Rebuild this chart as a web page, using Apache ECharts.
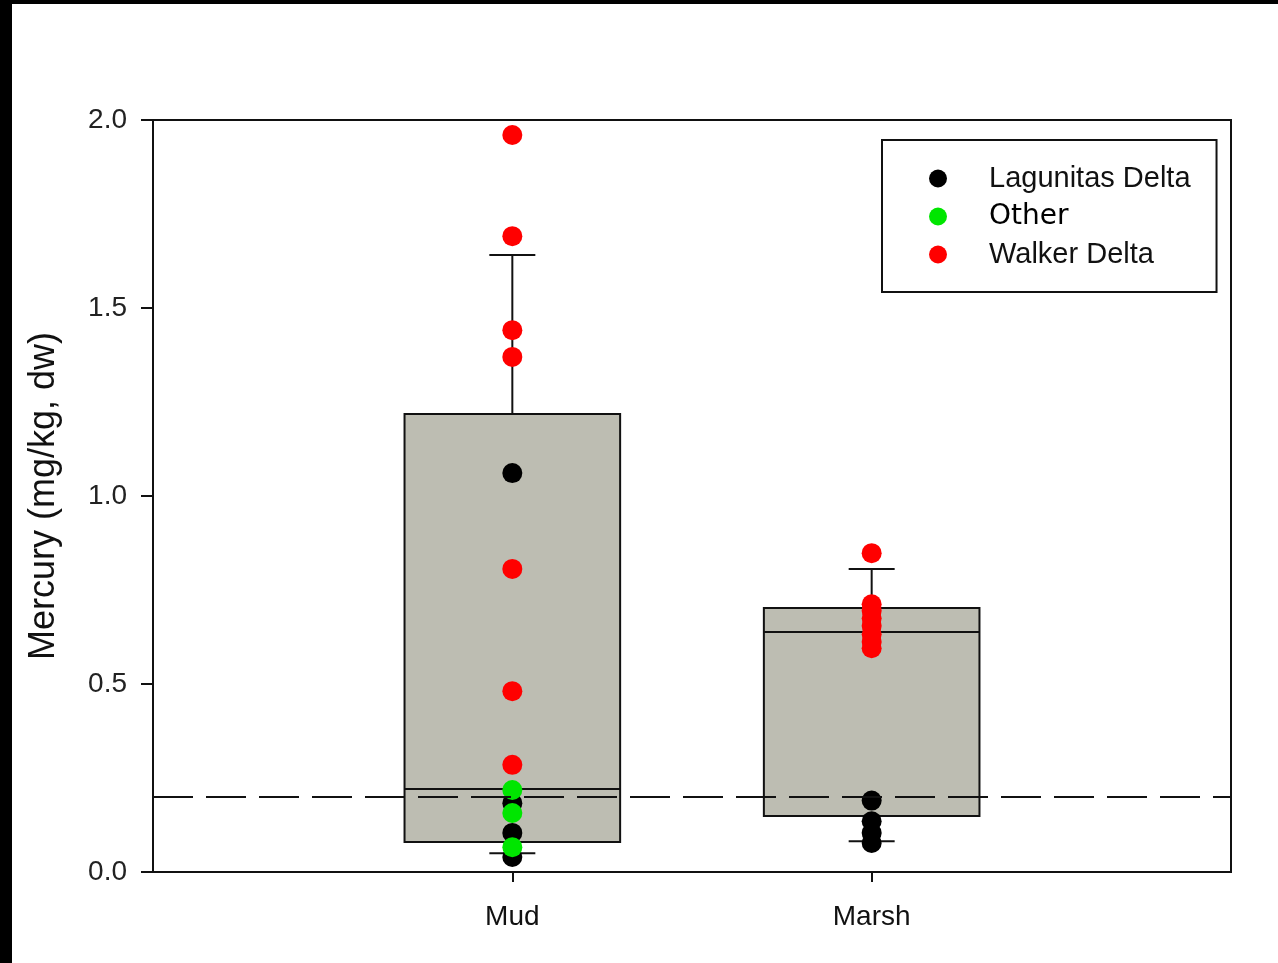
<!DOCTYPE html>
<html>
<head>
<meta charset="utf-8">
<title>Mercury by habitat</title>
<script src="https://cdn.jsdelivr.net/npm/echarts@6/dist/echarts.min.js"></script>
<style>
  html, body { margin: 0; padding: 0; background: #fff; }
  #chart { width: 1278px; height: 963px; }
</style>
</head>
<body>
<div id="chart"></div>
<script>
// Habitat groups, placed at x = 1, 2 on the value axis
const groups = ['Mud', 'Marsh'];

// Box plot summary per group (mg/kg, dw)
const whiskerLow  = [0.050, 0.082];
const boxLower    = [0.080, 0.149];
const medians     = [0.221, 0.638];
const boxUpper    = [1.218, 0.702];
const whiskerHigh = [1.641, 0.806];

// Individual samples by source area: [groupIndex, value]
const lagunitasDelta = [
  [1, 1.061], [1, 0.183], [1, 0.104], [1, 0.040],
  [2, 0.190], [2, 0.135], [2, 0.104], [2, 0.077]
];
const otherSites = [
  [1, 0.218], [1, 0.157], [1, 0.066]
];
const walkerDelta = [
  [1, 1.960], [1, 1.691], [1, 1.441], [1, 1.370], [1, 0.806], [1, 0.481], [1, 0.285],
  [2, 0.848], [2, 0.712], [2, 0.695], [2, 0.675], [2, 0.655], [2, 0.632], [2, 0.612], [2, 0.595]
];

// Reference level drawn as a dashed line
const thresholdValue = 0.2;

// Y axis ticks
const yTicks = { min: 0, max: 2, interval: 0.5 };

const FONT = '"Liberation Sans", Arial, sans-serif';

const boxData = groups.map((g, i) => [i + 1, whiskerLow[i], boxLower[i], medians[i], boxUpper[i], whiskerHigh[i]]);

function renderBox(params, api) {
  const x = api.value(0);
  const halfBox = 0.3;
  const halfCap = 0.064;
  const pLowW = api.coord([x, api.value(1)]);
  const pLowB = api.coord([x, api.value(2)]);
  const pMed = api.coord([x, api.value(3)]);
  const pUpB = api.coord([x, api.value(4)]);
  const pUpW = api.coord([x, api.value(5)]);
  const left = api.coord([x - halfBox, 0])[0];
  const right = api.coord([x + halfBox, 0])[0];
  const capL = api.coord([x - halfCap, 0])[0];
  const capR = api.coord([x + halfCap, 0])[0];
  const stroke = { stroke: '#111', lineWidth: 2 };
  return {
    type: 'group',
    children: [
      { type: 'line', shape: { x1: pUpB[0], y1: pUpB[1], x2: pUpW[0], y2: pUpW[1] }, style: stroke },
      { type: 'line', shape: { x1: capL, y1: pUpW[1], x2: capR, y2: pUpW[1] }, style: stroke },
      { type: 'line', shape: { x1: pLowB[0], y1: pLowB[1], x2: pLowW[0], y2: pLowW[1] }, style: stroke },
      { type: 'line', shape: { x1: capL, y1: pLowW[1], x2: capR, y2: pLowW[1] }, style: stroke },
      { type: 'rect', shape: { x: left, y: pUpB[1], width: right - left, height: pLowB[1] - pUpB[1] },
        style: { fill: '#bdbdb2', stroke: '#111', lineWidth: 2 } },
      { type: 'line', shape: { x1: left, y1: pMed[1], x2: right, y2: pMed[1] }, style: stroke }
    ]
  };
}

const chart = echarts.init(document.getElementById('chart'), null, { renderer: 'canvas' });

const option = {
  backgroundColor: '#ffffff',
  animation: false,
  graphic: [
    { type: 'rect', left: 0, top: 0, shape: { width: 1278, height: 4 }, style: { fill: '#000' }, z: 100 },
    { type: 'rect', left: 0, top: 0, shape: { width: 12, height: 963 }, style: { fill: '#000' }, z: 100 }
  ],
  grid: {
    left: 153, right: 47, top: 120, bottom: 91,
    show: true, borderColor: '#111', borderWidth: 2, backgroundColor: 'transparent'
  },
  legend: {
    orient: 'vertical',
    left: 882, top: 140,
    padding: [23, 26, 22, 47],
    backgroundColor: '#fff',
    borderColor: '#111',
    borderWidth: 2,
    borderRadius: 0,
    itemWidth: 92,
    itemHeight: 18,
    itemGap: 7,
    icon: 'circle',
    data: ['Lagunitas Delta', 'Other', 'Walker Delta'],
    formatter: name => name === 'Other' ? '{o|Other}' : name,
    textStyle: {
      fontFamily: FONT, fontSize: 29, color: '#111', lineHeight: 31,
      rich: { o: { fontFamily: '"DejaVu Sans", Verdana, sans-serif', fontSize: 28, color: '#000', lineHeight: 31 } }
    }
  },
  xAxis: {
    type: 'value',
    min: 0, max: 3, interval: 1,
    axisLine: { show: true, lineStyle: { color: '#111', width: 2 } },
    axisTick: { show: true, customValues: [1, 2], length: 10, lineStyle: { color: '#111', width: 2 } },
    axisLabel: {
      customValues: [1, 2],
      formatter: v => groups[Math.round(v) - 1] || '',
      margin: 31, fontFamily: FONT, fontSize: 28, color: '#111'
    },
    splitLine: { show: false }
  },
  yAxis: {
    type: 'value',
    min: yTicks.min, max: yTicks.max, interval: yTicks.interval,
    name: 'Mercury (mg/kg, dw)',
    nameLocation: 'middle',
    nameGap: 91,
    nameTextStyle: { fontFamily: FONT, fontSize: 36, color: '#111' },
    axisLine: { show: true, lineStyle: { color: '#111', width: 2 } },
    axisTick: { show: true, length: 12, lineStyle: { color: '#111', width: 2 } },
    axisLabel: { formatter: v => v.toFixed(1), margin: 26, fontFamily: FONT, fontSize: 28, color: '#222' },
    splitLine: { show: false }
  },
  series: [
    {
      name: 'boxes',
      type: 'custom',
      renderItem: renderBox,
      data: boxData,
      encode: { x: 0, y: [1, 2, 3, 4, 5] },
      z: 1,
      markLine: {
        silent: true,
        symbol: 'none',
        label: { show: false },
        lineStyle: { color: '#111', width: 2, type: [40, 13] },
        data: [{ yAxis: thresholdValue }]
      }
    },
    {
      name: 'Lagunitas Delta', type: 'scatter', data: lagunitasDelta,
      symbol: 'circle', symbolSize: 20, itemStyle: { color: '#000', opacity: 1 }, z: 3
    },
    {
      name: 'Other', type: 'scatter', data: otherSites,
      symbol: 'circle', symbolSize: 20, itemStyle: { color: '#00e600', opacity: 1 }, z: 4
    },
    {
      name: 'Walker Delta', type: 'scatter', data: walkerDelta,
      symbol: 'circle', symbolSize: 20, itemStyle: { color: '#ff0000', opacity: 1 }, z: 5
    }
  ]
};

chart.setOption(option);
</script>
</body>
</html>
